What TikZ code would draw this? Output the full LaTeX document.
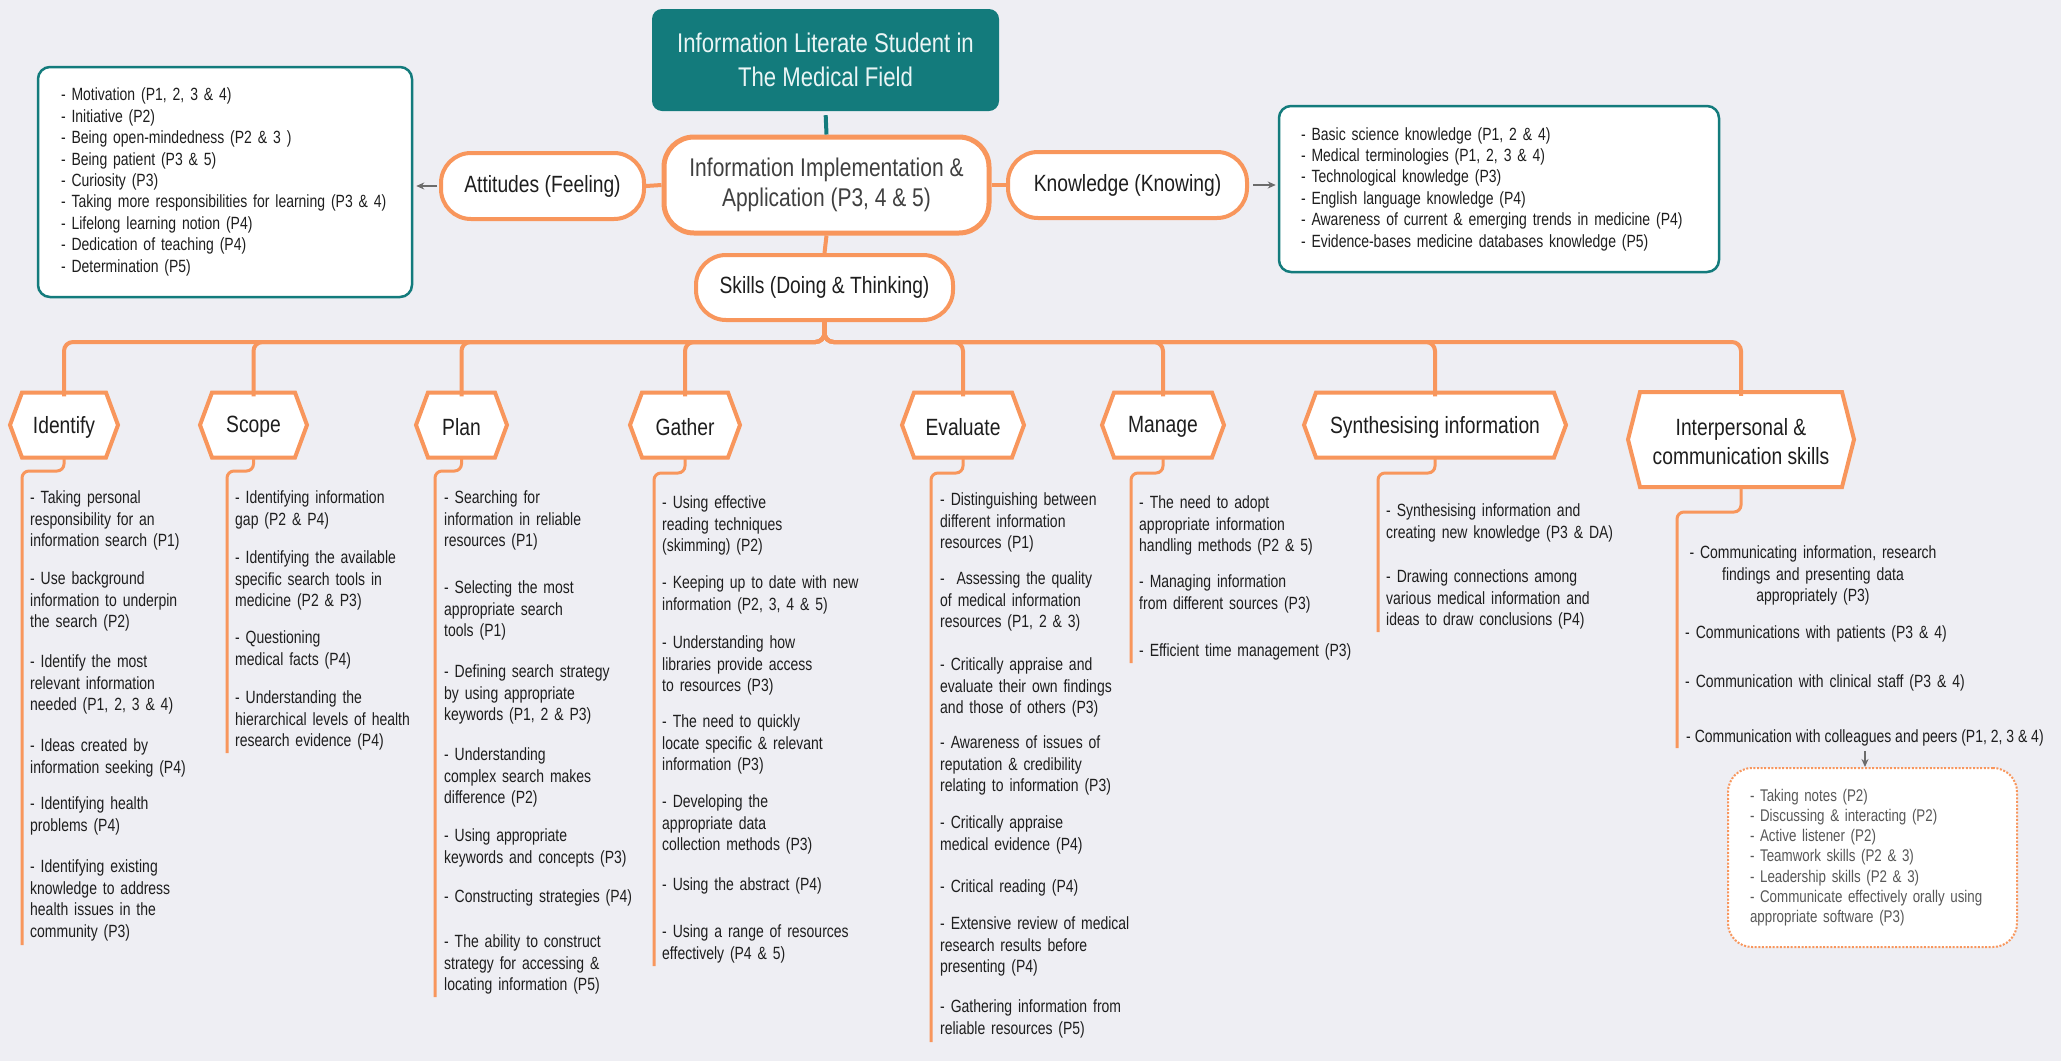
\documentclass[tikz,border=0pt]{standalone}
\usepackage{fontspec}
\setmainfont{Liberation Sans}[FakeStretch=0.82]
\newfontfamily\listfam{Liberation Sans}[FakeStretch=0.79]
\usetikzlibrary{arrows.meta,calc}

\definecolor{bgc}{HTML}{EEEEF3}
\definecolor{orng}{HTML}{F8965C}
\definecolor{tealc}{HTML}{137B7C}
\definecolor{ink}{HTML}{1E1E1E}
\definecolor{midgray}{HTML}{404040}
\definecolor{arrowgray}{HTML}{6B6B6B}
\definecolor{notegray}{HTML}{585858}
\definecolor{titletext}{HTML}{EAF5F5}

\newcommand\bodyfont{\listfam\fontsize{17.7}{21.5}\selectfont}
\newcommand\boxfont{\listfam\fontsize{17.7}{21.4}\selectfont}
\newcommand\notefont{\listfam\fontsize{16.9}{20.2}\selectfont}
\newcommand\labelfont{\fontsize{23.5}{29}\selectfont}
\newcommand\centrefont{\fontsize{25.6}{30}\selectfont}
\newcommand\titlefont{\fontsize{27}{34}\selectfont}

\tikzset{
  pill/.style={draw=orng, line width=4pt, fill=white, rounded corners=30pt,
    inner sep=0pt, text=ink, font=\labelfont, align=center},
  hexedge/.style={draw=orng, line width=4pt, fill=white},
  hexlabel/.style={inner sep=0pt, text=ink, font=\labelfont, align=center},
  limb/.style={draw=orng, line width=4pt, rounded corners=9pt},
  twig/.style={draw=orng, line width=3pt, rounded corners=7pt},
  item/.style={anchor=base west, inner sep=0pt, font=\bodyfont, text=ink,
    text width=330pt, align=left},
  listbox/.style={draw=tealc, line width=2.5pt, fill=white, rounded corners=12pt,
    font=\boxfont, text=ink, align=left, inner ysep=0pt},
  garrow/.style={draw=arrowgray, line width=1.6pt,
    -{Stealth[length=8pt,width=7pt]}},
}

% hexagonal skill heading: name, centre x, centre y, width, height, label
\newcommand\hexnode[6]{%
  \draw[hexedge] ({#2-#4/2},#3) -- ({#2-#4/2+12},{#3-#5/2})
    -- ({#2+#4/2-12},{#3-#5/2}) -- ({#2+#4/2},#3)
    -- ({#2+#4/2-12},{#3+#5/2}) -- ({#2-#4/2+12},{#3+#5/2}) -- cycle;
  \node[hexlabel, minimum width=#4pt, minimum height=#5pt] (#1) at (#2,{#3+2}) {#6};
}

\begin{document}
\begin{tikzpicture}[x=1pt, y=-1pt]
\fill[bgc] (0,0) rectangle (2061,1061);
\useasboundingbox (0,0) rectangle (2061,1061);

% ---------- top of the map ----------
\node[fill=tealc, rounded corners=10pt, minimum width=347pt, minimum height=102pt,
  inner sep=0pt, text=titletext, font=\titlefont, align=center]
  (title) at (825.5,60) {Information Literate Student in\\The Medical Field};

\node[pill, minimum width=325pt, minimum height=96pt, line width=5pt,
  text=midgray, font=\centrefont]
  (central) at (826.5,185) {Information Implementation \&\\Application (P3, 4 \& 5)};

\node[pill, minimum width=203pt, minimum height=66pt] (att) at (542.5,186) {Attitudes (Feeling)};
\node[pill, minimum width=239pt, minimum height=66pt] (know) at (1127.5,185) {Knowledge (Knowing)};
\node[pill, minimum width=257pt, minimum height=65pt] (skills) at (824.5,287.5) {Skills (Doing \& Thinking)};

\draw[tealc, line width=4pt, shorten <=4pt] (title.south) -- (central.north);
\draw[orng, line width=4pt] (central.west) -- (att.east);
\draw[orng, line width=4pt] (central.east) -- (know.west);
\draw[orng, line width=4pt] (central.south) -- (skills.north);

% attitude and knowledge lists
\node[listbox, minimum width=374pt, minimum height=230pt, text width=328pt, inner xsep=23pt]
  (attbox) at (225,182) {- Motivation (P1, 2, 3 \& 4)\\- Initiative (P2)\\- Being open-mindedness (P2 \& 3 )\\- Being patient (P3 \& 5)\\- Curiosity (P3)\\- Taking more responsibilities for learning (P3 \& 4)\\- Lifelong learning notion (P4)\\- Dedication of teaching (P4)\\- Determination (P5)};
\node[listbox, minimum width=440pt, minimum height=166pt, text width=396pt, inner xsep=22pt]
  (knowbox) at (1499,189) {- Basic science knowledge (P1, 2 \& 4)\\- Medical terminologies (P1, 2, 3 \& 4)\\- Technological knowledge (P3)\\- English language knowledge (P4)\\- Awareness of current \& emerging trends in medicine (P4)\\- Evidence-bases medicine databases knowledge (P5)};

\draw[garrow, shorten <=2pt, shorten >=3pt] (att.west) -- (att.west -| attbox.east);
\draw[garrow, shorten <=4pt, shorten >=2pt] (know.east) -- (know.east -| knowbox.west);

% ---------- skill headings ----------
\hexnode{idf}{64}{425}{108}{65}{Identify}
\hexnode{scp}{253.5}{425}{107}{65}{Scope}
\hexnode{pln}{461.5}{425}{91}{65}{Plan}
\hexnode{gth}{685}{425}{110}{65}{Gather}
\hexnode{evl}{963}{425}{122}{65}{Evaluate}
\hexnode{mng}{1163}{425}{122}{65}{Manage}
\hexnode{syn}{1435}{425}{262}{65}{Synthesising information}
\hexnode{ipc}{1741}{439.5}{226}{95}{Interpersonal \&\\communication skills}

\coordinate (bus) at (0,342);
\foreach \h in {idf,scp,pln,gth,evl,mng,syn,ipc}
  \draw[limb] (skills.south) |- (\h.north |- bus) -- ([yshift=-2pt]\h.north);

% list spines under each heading
\coordinate (idf-a) at (22,471);   \coordinate (idf-b) at (22,945);
\coordinate (scp-a) at (227,471);  \coordinate (scp-b) at (227,753);
\coordinate (pln-a) at (435,471);  \coordinate (pln-b) at (435,997);
\coordinate (gth-a) at (654,473);  \coordinate (gth-b) at (654,966);
\coordinate (evl-a) at (931,473);  \coordinate (evl-b) at (931,1042);
\coordinate (mng-a) at (1131,473); \coordinate (mng-b) at (1131,663);
\coordinate (syn-a) at (1378,473); \coordinate (syn-b) at (1378,632);
\coordinate (ipc-a) at (1677,512); \coordinate (ipc-b) at (1677,748);
\foreach \h in {idf,scp,pln,gth,evl,mng,syn,ipc}
  \draw[twig] ([yshift=2pt]\h.south) |- (\h-a) -- (\h-b);

% ---------- Identify ----------
\node[item] (idf1) at (30,503.5) {- Taking personal\\responsibility for an\\information search (P1)};
\node[item] (idf2) at (30,584.5) {- Use background\\information to underpin\\the search (P2)};
\node[item] (idf3) at (30,667.5) {- Identify the most\\relevant information\\needed (P1, 2, 3 \& 4)};
\node[item] (idf4) at (30,751.5) {- Ideas created by\\information seeking (P4)};
\node[item] (idf5) at (30,809.5) {- Identifying health\\problems (P4)};
\node[item] (idf6) at (30,872.5) {- Identifying existing\\knowledge to address\\health issues in the\\community (P3)};

% ---------- Scope ----------
\node[item] (scp1) at (235,503.5) {- Identifying information\\gap (P2 \& P4)};
\node[item] (scp2) at (235,563.5) {- Identifying the available\\specific search tools in\\medicine (P2 \& P3)};
\node[item] (scp3) at (235,643.5) {- Questioning\\medical facts (P4)};
\node[item] (scp4) at (235,703.5) {- Understanding the\\hierarchical levels of health\\research evidence (P4)};

% ---------- Plan ----------
\node[item] (pln1) at (444,503.5) {- Searching for\\information in reliable\\resources (P1)};
\node[item] (pln2) at (444,593.5) {- Selecting the most\\appropriate search\\tools (P1)};
\node[item] (pln3) at (444,677.5) {- Defining search strategy\\by using appropriate\\keywords (P1, 2 \& P3)};
\node[item] (pln4) at (444,760.5) {- Understanding\\complex search makes\\difference (P2)};
\node[item] (pln5) at (444,841.5) {- Using appropriate\\keywords and concepts (P3)};
\node[item] (pln6) at (444,902.5) {- Constructing strategies (P4)};
\node[item] (pln7) at (444,947.5) {- The ability to construct\\strategy for accessing \&\\locating information (P5)};

% ---------- Gather ----------
\node[item] (gth1) at (662,508.5) {- Using effective\\reading techniques\\(skimming) (P2)};
\node[item] (gth2) at (662,588.5) {- Keeping up to date with new\\information (P2, 3, 4 \& 5)};
\node[item] (gth3) at (662,648.5) {- Understanding how\\libraries provide access\\to resources (P3)};
\node[item] (gth4) at (662,727.5) {- The need to quickly\\locate specific \& relevant\\information (P3)};
\node[item] (gth5) at (662,807.5) {- Developing the\\appropriate data\\collection methods (P3)};
\node[item] (gth6) at (662,890.5) {- Using the abstract (P4)};
\node[item] (gth7) at (662,937.5) {- Using a range of resources\\effectively (P4 \& 5)};

% ---------- Evaluate ----------
\node[item] (evl1) at (940,505.5) {- Distinguishing between\\different information\\resources (P1)};
\node[item] (evl2) at (940,584.5) {-\ \ Assessing the quality\\of medical information\\resources (P1, 2 \& 3)};
\node[item] (evl3) at (940,670.5) {- Critically appraise and\\evaluate their own findings\\and those of others (P3)};
\node[item] (evl4) at (940,748.5) {- Awareness of issues of\\reputation \& credibility\\relating to information (P3)};
\node[item] (evl5) at (940,828.5) {- Critically appraise\\medical evidence (P4)};
\node[item] (evl6) at (940,892.5) {- Critical reading (P4)};
\node[item] (evl7) at (940,929.5) {- Extensive review of medical\\research results before\\presenting (P4)};
\node[item] (evl8) at (940,1012.5) {- Gathering information from\\reliable resources (P5)};

% ---------- Manage ----------
\node[item] (mng1) at (1139,508.5) {- The need to adopt\\appropriate information\\handling methods (P2 \& 5)};
\node[item] (mng2) at (1139,587.5) {- Managing information\\from different sources (P3)};
\node[item] (mng3) at (1139,656.5) {- Efficient time management (P3)};

% ---------- Synthesising information ----------
\node[item] (syn1) at (1386,516.5) {- Synthesising information and\\creating new knowledge (P3 \& DA)};
\node[item] (syn2) at (1386,582.5) {- Drawing connections among\\various medical information and\\ideas to draw conclusions (P4)};

% ---------- Interpersonal & communication skills ----------
\node[item, anchor=base, align=center] (ipc1) at (1813,558.5) {- Communicating information, research\\findings and presenting data\\appropriately (P3)};
\node[item] (ipc2) at (1685,638.5) {- Communications with patients (P3 \& 4)};
\node[item] (ipc3) at (1685,687.5) {- Communication with clinical staff (P3 \& 4)};
\node[anchor=base west, inner sep=0pt, font=\bodyfont, text=ink] (ipc4) at (1686,742.5) {- Communication with colleagues and peers (P1, 2, 3 \& 4)};

\node[draw=orng, line width=2pt, dash pattern=on 2pt off 1.6pt, fill=white,
  rounded corners=24pt, minimum width=289pt, minimum height=179pt,
  text width=245pt, inner xsep=22pt, inner ysep=0pt, align=left,
  font=\notefont, text=notegray]
  (notebox) at (1872.5,857.5) {- Taking notes (P2)\\- Discussing \& interacting (P2)\\- Active listener (P2)\\- Teamwork skills (P2 \& 3)\\- Leadership skills (P2 \& 3)\\- Communicate effectively orally using\\appropriate software (P3)};

\draw[garrow, shorten <=5pt] (ipc4.south) -- (ipc4.south |- notebox.north);
\end{tikzpicture}
\end{document}
